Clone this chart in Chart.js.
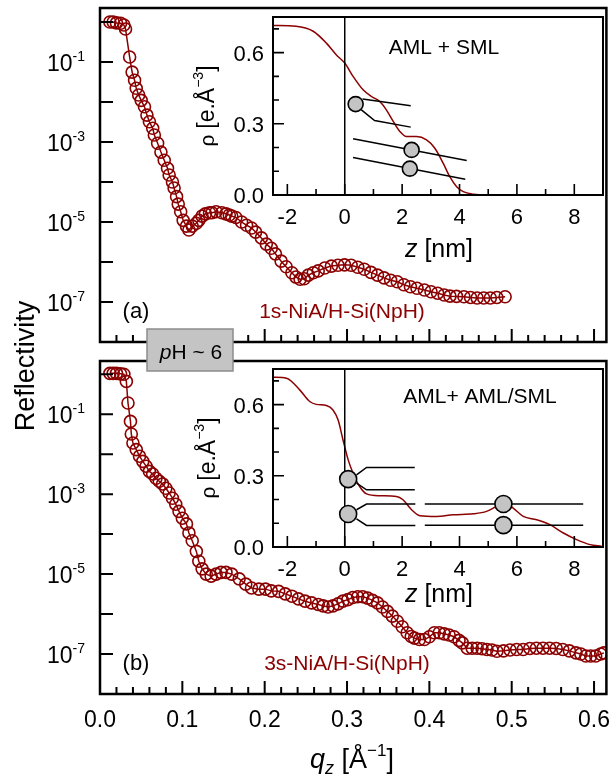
<!DOCTYPE html>
<html>
<head>
<meta charset="utf-8">
<script src="https://cdn.jsdelivr.net/npm/chart.js@4.4.0/dist/chart.umd.min.js"></script>
<style>
  body { margin: 0; background: #fff; }
  #wrap { position: relative; width: 614px; height: 778px; }
  #wrap canvas { position: absolute; left: 0; top: 0; }
</style>
</head>
<body>
<div id="wrap">
  <canvas id="mainA" width="614" height="778"></canvas>
  <canvas id="mainB" width="614" height="778"></canvas>
  <canvas id="insetA" width="614" height="778"></canvas>
  <canvas id="insetB" width="614" height="778"></canvas>
</div>
<script>
var FONT = '"Liberation Sans", Arial, Helvetica, sans-serif';
var RED = '#8b0000';

// panel (a): 1s-NiA/H-Si(NpH), reflectivity vs qz
var qA = [0.012, 0.016, 0.020, 0.025, 0.029, 0.031, 0.036, 0.039, 0.042, 0.044, 0.047, 0.050, 0.054, 0.057, 0.060,
  0.064, 0.066, 0.070, 0.074, 0.078, 0.082, 0.084, 0.088, 0.090, 0.093, 0.095, 0.098, 0.101, 0.105, 0.108,
  0.112, 0.117, 0.120, 0.124, 0.128, 0.133, 0.136, 0.141, 0.148, 0.153, 0.157, 0.160, 0.165, 0.172, 0.178,
  0.184, 0.189, 0.196, 0.202, 0.208, 0.213, 0.220, 0.226, 0.233, 0.238, 0.243, 0.248, 0.253, 0.259, 0.265,
  0.273, 0.281, 0.289, 0.297, 0.305, 0.313, 0.321, 0.329, 0.337, 0.345, 0.353, 0.361, 0.369, 0.377, 0.385,
  0.394, 0.402, 0.410, 0.418, 0.425, 0.433, 0.442, 0.450, 0.458, 0.466, 0.474, 0.482, 0.492];
var rA = [1.0, 1.0, 0.95, 0.93, 0.84, 0.67, 0.133, 5.6e-2, 3.5e-2, 2.2e-2, 1.5e-2, 1.1e-2, 7.6e-3, 4.7e-3, 3.2e-3,
  2.2e-3, 1.5e-3, 9.3e-4, 5.6e-4, 3.5e-4, 2.2e-4, 1.5e-4, 1.0e-4, 7.1e-5, 4.3e-5, 2.8e-5, 1.8e-5, 1.1e-5, 7.9e-6, 6.3e-6,
  7.9e-6, 9.3e-6, 1.1e-5, 1.4e-5, 1.6e-5, 1.7e-5, 1.7e-5, 1.8e-5, 1.7e-5, 1.6e-5, 1.5e-5, 1.4e-5, 1.3e-5, 1.0e-5, 8.3e-6,
  7.1e-6, 5.6e-6, 4.0e-6, 2.8e-6, 2.2e-6, 1.6e-6, 1.05e-6, 7.6e-7, 5.4e-7, 4.2e-7, 3.7e-7, 3.8e-7, 4.7e-7, 5.4e-7, 6.0e-7,
  7.1e-7, 7.9e-7, 8.3e-7, 8.5e-7, 8.3e-7, 7.4e-7, 6.6e-7, 5.5e-7, 4.7e-7, 4.0e-7, 3.5e-7, 3.2e-7, 2.7e-7, 2.4e-7, 2.2e-7,
  2.0e-7, 1.8e-7, 1.66e-7, 1.5e-7, 1.4e-7, 1.38e-7, 1.35e-7, 1.3e-7, 1.26e-7, 1.26e-7, 1.26e-7, 1.3e-7, 1.35e-7];

// panel (b): 3s-NiA/H-Si(NpH)
var qB = [0.012, 0.016, 0.020, 0.025, 0.029, 0.032, 0.034, 0.037, 0.038, 0.040, 0.044, 0.048, 0.052, 0.056, 0.060,
  0.064, 0.068, 0.072, 0.076, 0.080, 0.084, 0.088, 0.092, 0.096, 0.100, 0.105, 0.108, 0.112, 0.117, 0.120,
  0.124, 0.129, 0.135, 0.141, 0.147, 0.153, 0.160, 0.169, 0.177, 0.184, 0.193, 0.201, 0.208, 0.217, 0.225,
  0.233, 0.241, 0.249, 0.257, 0.265, 0.271, 0.277, 0.283, 0.289, 0.295, 0.301, 0.307, 0.313, 0.319, 0.325,
  0.331, 0.337, 0.343, 0.349, 0.355, 0.361, 0.367, 0.373, 0.378, 0.382, 0.388, 0.394, 0.400, 0.406, 0.412,
  0.418, 0.424, 0.430, 0.436, 0.440, 0.446, 0.452, 0.458, 0.464, 0.470, 0.476, 0.482, 0.490, 0.498, 0.506,
  0.514, 0.522, 0.530, 0.538, 0.546, 0.554, 0.562, 0.570, 0.578, 0.584, 0.590, 0.596, 0.602, 0.608, 0.612];
var rB = [1.05, 1.05, 1.05, 1.02, 1.0, 0.66, 0.19, 6.6e-2, 3.2e-2, 1.9e-2, 1.3e-2, 8.9e-3, 6.6e-3, 5.0e-3, 3.7e-3,
  3.2e-3, 2.5e-3, 2.1e-3, 1.8e-3, 1.4e-3, 1.07e-3, 7.9e-4, 5.6e-4, 3.7e-4, 2.5e-4, 1.8e-4, 1.07e-4, 6.8e-5, 3.7e-5, 2.1e-5,
  1.35e-5, 1.0e-5, 8.9e-6, 1.0e-5, 1.1e-5, 1.1e-5, 1.0e-5, 7.6e-6, 5.6e-6, 4.5e-6, 4.2e-6, 4.2e-6, 3.8e-6, 3.7e-6, 3.2e-6,
  2.8e-6, 2.4e-6, 2.1e-6, 1.9e-6, 1.74e-6, 1.6e-6, 1.5e-6, 1.6e-6, 1.8e-6, 2.1e-6, 2.3e-6, 2.6e-6, 2.7e-6, 2.7e-6, 2.5e-6,
  2.2e-6, 1.9e-6, 1.5e-6, 1.17e-6, 8.9e-7, 6.6e-7, 4.8e-7, 3.4e-7, 2.75e-7, 2.5e-7, 2.3e-7, 2.3e-7, 2.7e-7, 3.4e-7, 3.4e-7,
  3.2e-7, 3.0e-7, 2.7e-7, 2.2e-7, 1.9e-7, 1.4e-7, 1.4e-7, 1.4e-7, 1.35e-7, 1.3e-7, 1.26e-7, 1.17e-7, 1.2e-7, 1.26e-7, 1.3e-7,
  1.3e-7, 1.38e-7, 1.4e-7, 1.4e-7, 1.4e-7, 1.38e-7, 1.3e-7, 1.2e-7, 1.07e-7, 1.0e-7, 8.9e-8, 8.9e-8, 8.9e-8, 1.0e-7, 1.07e-7];

// inset profiles: electron density rho(z)
var zA = [-2.5, -1.7, -1.1, -0.64, -0.29, 0, 0.29, 0.64, 0.93, 1.22, 1.45, 1.69, 1.92, 2.15, 2.5, 2.85, 3.14, 3.43,
  3.66, 3.9, 4.13, 4.48, 4.8];
var rhoA = [0.714, 0.711, 0.69, 0.64, 0.59, 0.556, 0.5, 0.443, 0.415, 0.394, 0.359, 0.31, 0.268, 0.246, 0.246, 0.232,
  0.197, 0.134, 0.077, 0.035, 0.014, 0.003, 0.0];
var zB = [-2.5, -2.03, -1.57, -1.22, -0.99, -0.64, -0.41, -0.23, -0.06, 0.12, 0.29, 0.52, 0.76, 1.22, 1.8, 2.03, 2.33,
  2.62, 3.2, 3.78, 4.48, 4.94, 5.29, 5.58, 5.87, 6.22, 6.69, 7.15, 7.62, 8.08, 8.55, 8.95];
var rhoB = [0.715, 0.711, 0.662, 0.613, 0.601, 0.596, 0.577, 0.535, 0.451, 0.367, 0.311, 0.255, 0.224, 0.216, 0.213,
  0.199, 0.157, 0.132, 0.129, 0.136, 0.14, 0.15, 0.171, 0.185, 0.164, 0.129, 0.115, 0.094, 0.059, 0.031, 0.01, 0.003];

// molecule sketches (heads and tails) in inset data coordinates
var headsA = [[0.38, 0.383], [2.33, 0.19], [2.27, 0.111]];
var tailsA = [
  [[0.62, 0.404], [2.3, 0.376]],
  [[0.58, 0.359], [1.04, 0.314], [2.3, 0.286]],
  [[0.29, 0.237], [4.25, 0.145]],
  [[0.29, 0.158], [4.2, 0.066]]
];
var headsB = [[0.12, 0.286], [0.12, 0.139], [5.53, 0.181], [5.53, 0.092]];
var tailsB = [
  [[0.41, 0.304], [0.76, 0.335], [2.44, 0.335]],
  [[0.41, 0.269], [0.76, 0.241], [2.44, 0.241]],
  [[0.41, 0.157], [0.76, 0.181], [2.46, 0.181]],
  [[0.41, 0.119], [0.76, 0.091], [2.46, 0.091]],
  [[2.79, 0.181], [8.31, 0.181]],
  [[2.79, 0.092], [8.31, 0.092]]
];

// tick labels
var qTicks = [0, 0.1, 0.2, 0.3, 0.4, 0.5, 0.6];
var qTickLabels = ['0.0', '0.1', '0.2', '0.3', '0.4', '0.5', '0.6'];
var decades = [-7, -6, -5, -4, -3, -2, -1, 0];
var decadeLabels = [-7, -5, -3, -1];
var zTicks = [-2, 0, 2, 4, 6, 8];
var zMinor = [-1, 1, 3, 5, 7];
var rhoTicks = [0, 0.3, 0.6];
var rhoTickLabels = ['0.0', '0.3', '0.6'];
var rhoMinor = [0.1, 0.2, 0.4, 0.5, 0.7];

function fontOf(size, italic) {
  return (italic ? 'italic ' : '') + size + 'px ' + FONT;
}

// draw text made of parts: [text, size, italic, dy]
function rich(ctx, x, y, parts, align) {
  var w = 0;
  parts.forEach(function (p) {
    ctx.font = fontOf(p[1], p[2]);
    p.w = ctx.measureText(p[0]).width;
    w += p.w;
  });
  var cx = align === 'center' ? x - w / 2 : (align === 'right' ? x - w : x);
  ctx.textAlign = 'left';
  ctx.textBaseline = 'alphabetic';
  parts.forEach(function (p) {
    ctx.font = fontOf(p[1], p[2]);
    ctx.fillText(p[0], cx, y + (p[3] || 0));
    cx += p.w;
  });
}

function pts(xs, ys) {
  return xs.map(function (v, i) { return { x: v, y: ys[i] }; });
}

function mainChart(id, q, r, pad, yMax, opts) {
  var plugin = {
    id: 'mainAxes',
    afterDraw: function (chart) {
      var ctx = chart.ctx, a = chart.chartArea, x = chart.scales.x, y = chart.scales.y;
      ctx.save();
      ctx.strokeStyle = '#000';
      ctx.fillStyle = '#000';
      ctx.lineWidth = 2;
      ctx.beginPath();
      for (var i = 0; i <= 30; i++) {
        var px = x.getPixelForValue(i * 0.02);
        var len = i % 5 === 0 ? 13 : 7;
        ctx.moveTo(px, a.bottom);
        ctx.lineTo(px, a.bottom - len);
      }
      decades.forEach(function (e) {
        var py = y.getPixelForValue(Math.pow(10, e));
        ctx.moveTo(a.left, py);
        ctx.lineTo(a.left + 13, py);
      });
      ctx.stroke();

      decadeLabels.forEach(function (e) {
        var py = y.getPixelForValue(Math.pow(10, e));
        rich(ctx, 85, py + 9, [['10', 23], [String(e), 14, false, -10]], 'right');
      });
      if (opts.xLabels) {
        qTicks.forEach(function (v, i) {
          rich(ctx, x.getPixelForValue(v), a.bottom + 33, [[qTickLabels[i], 23]], 'center');
        });
      }
      rich(ctx, 136, opts.tagY, [[opts.tag, 22]], 'center');
      ctx.fillStyle = RED;
      rich(ctx, opts.nameX, opts.tagY, [[opts.name, 21]], 'center');
      ctx.fillStyle = '#000';

      ctx.lineWidth = 2.5;
      ctx.strokeRect(a.left, a.top, a.right - a.left, a.bottom - a.top);
      if (opts.extra) opts.extra(ctx);
      ctx.restore();
    }
  };
  return new Chart(document.getElementById(id), {
    type: 'line',
    data: {
      datasets: [{
        data: pts(q, r),
        borderColor: RED,
        borderWidth: 1.5,
        pointRadius: 6,
        pointBorderWidth: 1.6,
        pointBorderColor: RED,
        pointBackgroundColor: 'rgba(255,255,255,0)',
        tension: 0
      }]
    },
    options: {
      responsive: false,
      animation: false,
      devicePixelRatio: 1,
      layout: { padding: pad },
      plugins: { legend: { display: false }, tooltip: { enabled: false } },
      scales: {
        x: { type: 'linear', min: 0, max: 0.615, display: false },
        y: { type: 'logarithmic', min: 1e-8, max: yMax, display: false }
      }
    },
    plugins: [plugin]
  });
}

function insetChart(id, z, rho, heads, tails, pad, opts) {
  var datasets = [{
    data: heads.map(function (h) { return { x: h[0], y: h[1] }; }),
    showLine: false,
    pointRadius: opts.headR,
    pointBorderWidth: 1.6,
    pointBorderColor: '#000',
    pointBackgroundColor: '#c4c4c4'
  }];
  tails.forEach(function (t) {
    datasets.push({
      data: t.map(function (p) { return { x: p[0], y: p[1] }; }),
      borderColor: '#000',
      borderWidth: 1.5,
      pointRadius: 0,
      tension: 0
    });
  });
  datasets.push({
    data: [{ x: 0, y: 0 }, { x: 0, y: 0.75 }],
    borderColor: '#000',
    borderWidth: 1.5,
    pointRadius: 0
  });
  datasets.push({
    data: pts(z, rho),
    borderColor: RED,
    borderWidth: 1.5,
    pointRadius: 0,
    cubicInterpolationMode: 'monotone'
  });

  var plugin = {
    id: 'insetAxes',
    beforeDraw: function (chart) {
      var a = chart.chartArea;
      chart.ctx.save();
      chart.ctx.fillStyle = '#fff';
      chart.ctx.fillRect(a.left, a.top, a.right - a.left, a.bottom - a.top);
      chart.ctx.restore();
    },
    afterDraw: function (chart) {
      var ctx = chart.ctx, a = chart.chartArea, x = chart.scales.x, y = chart.scales.y;
      ctx.save();
      ctx.strokeStyle = '#000';
      ctx.fillStyle = '#000';
      ctx.lineWidth = 1.6;
      ctx.beginPath();
      zTicks.forEach(function (v) {
        var px = x.getPixelForValue(v);
        ctx.moveTo(px, a.bottom); ctx.lineTo(px, a.bottom - 11);
      });
      zMinor.forEach(function (v) {
        var px = x.getPixelForValue(v);
        ctx.moveTo(px, a.bottom); ctx.lineTo(px, a.bottom - 6);
      });
      rhoTicks.forEach(function (v) {
        var py = y.getPixelForValue(v);
        ctx.moveTo(a.left, py); ctx.lineTo(a.left + 11, py);
      });
      rhoMinor.forEach(function (v) {
        var py = y.getPixelForValue(v);
        ctx.moveTo(a.left, py); ctx.lineTo(a.left + 6, py);
      });
      ctx.stroke();

      zTicks.forEach(function (v) {
        rich(ctx, x.getPixelForValue(v), a.bottom + 29, [[String(v), 22]], 'center');
      });
      rhoTicks.forEach(function (v, i) {
        rich(ctx, a.left - 9, y.getPixelForValue(v) + 8, [[rhoTickLabels[i], 22]], 'right');
      });
      rich(ctx, 439, opts.zLabelY, [['z', 25, true], [' [nm]', 25]], 'center');
      rich(ctx, opts.noteX, opts.noteY, [[opts.note, 21]], 'center');

      ctx.save();
      ctx.translate(opts.rhoX, (a.top + a.bottom) / 2);
      ctx.rotate(-Math.PI / 2);
      rich(ctx, 0, 0, [['\u03c1 ', 21], ['[e.\u00c5', 23], ['\u22123', 14, false, -11], [']', 23]], 'center');
      ctx.restore();

      ctx.lineWidth = 2;
      ctx.strokeRect(a.left, a.top, a.right - a.left, a.bottom - a.top);
      ctx.restore();
    }
  };

  return new Chart(document.getElementById(id), {
    type: 'line',
    data: { datasets: datasets },
    options: {
      responsive: false,
      animation: false,
      devicePixelRatio: 1,
      layout: { padding: pad },
      plugins: { legend: { display: false }, tooltip: { enabled: false } },
      scales: {
        x: { type: 'linear', min: -2.5, max: 9, display: false },
        y: { type: 'linear', min: 0, max: 0.75, display: false }
      }
    },
    plugins: [plugin]
  });
}

mainChart('mainA', qA, rA, { left: 100, top: 8, right: 3, bottom: 436 }, 2.24, {
  xLabels: false, tag: '(a)', tagY: 318, name: '1s-NiA/H-Si(NpH)', nameX: 342
});

mainChart('mainB', qB, rB, { left: 100, top: 361, right: 3, bottom: 84 }, 2.14, {
  xLabels: true, tag: '(b)', tagY: 670, name: '3s-NiA/H-Si(NpH)', nameX: 347,
  extra: function (ctx) {
    // pH box spanning both panels
    ctx.fillStyle = '#c4c4c4';
    ctx.fillRect(147, 329, 86, 42);
    ctx.strokeStyle = '#8c8c8c';
    ctx.lineWidth = 1.5;
    ctx.strokeRect(147, 329, 86, 42);
    ctx.fillStyle = '#000';
    rich(ctx, 191, 359, [['p', 21, true], ['H ~ 6', 21]], 'center');
    // shared axis titles
    rich(ctx, 352, 768, [['q', 27, true], ['z', 18, true, 6], [' [\u00c5', 27], ['\u22121', 17, false, -12], [']', 27]], 'center');
    ctx.save();
    ctx.translate(34, 366);
    ctx.rotate(-Math.PI / 2);
    rich(ctx, 0, 0, [['Reflectivity', 27]], 'center');
    ctx.restore();
  }
});

insetChart('insetA', zA, rhoA, headsA, tailsA, { left: 273, top: 17, right: 11, bottom: 583 }, {
  headR: 7.5, zLabelY: 257, note: 'AML + SML', noteX: 444, noteY: 54, rhoX: 214
});

insetChart('insetB', zB, rhoB, headsB, tailsB, { left: 273, top: 369, right: 11, bottom: 231 }, {
  headR: 8.5, zLabelY: 602, note: 'AML+ AML/SML', noteX: 480, noteY: 403, rhoX: 215
});
</script>
</body>
</html>
